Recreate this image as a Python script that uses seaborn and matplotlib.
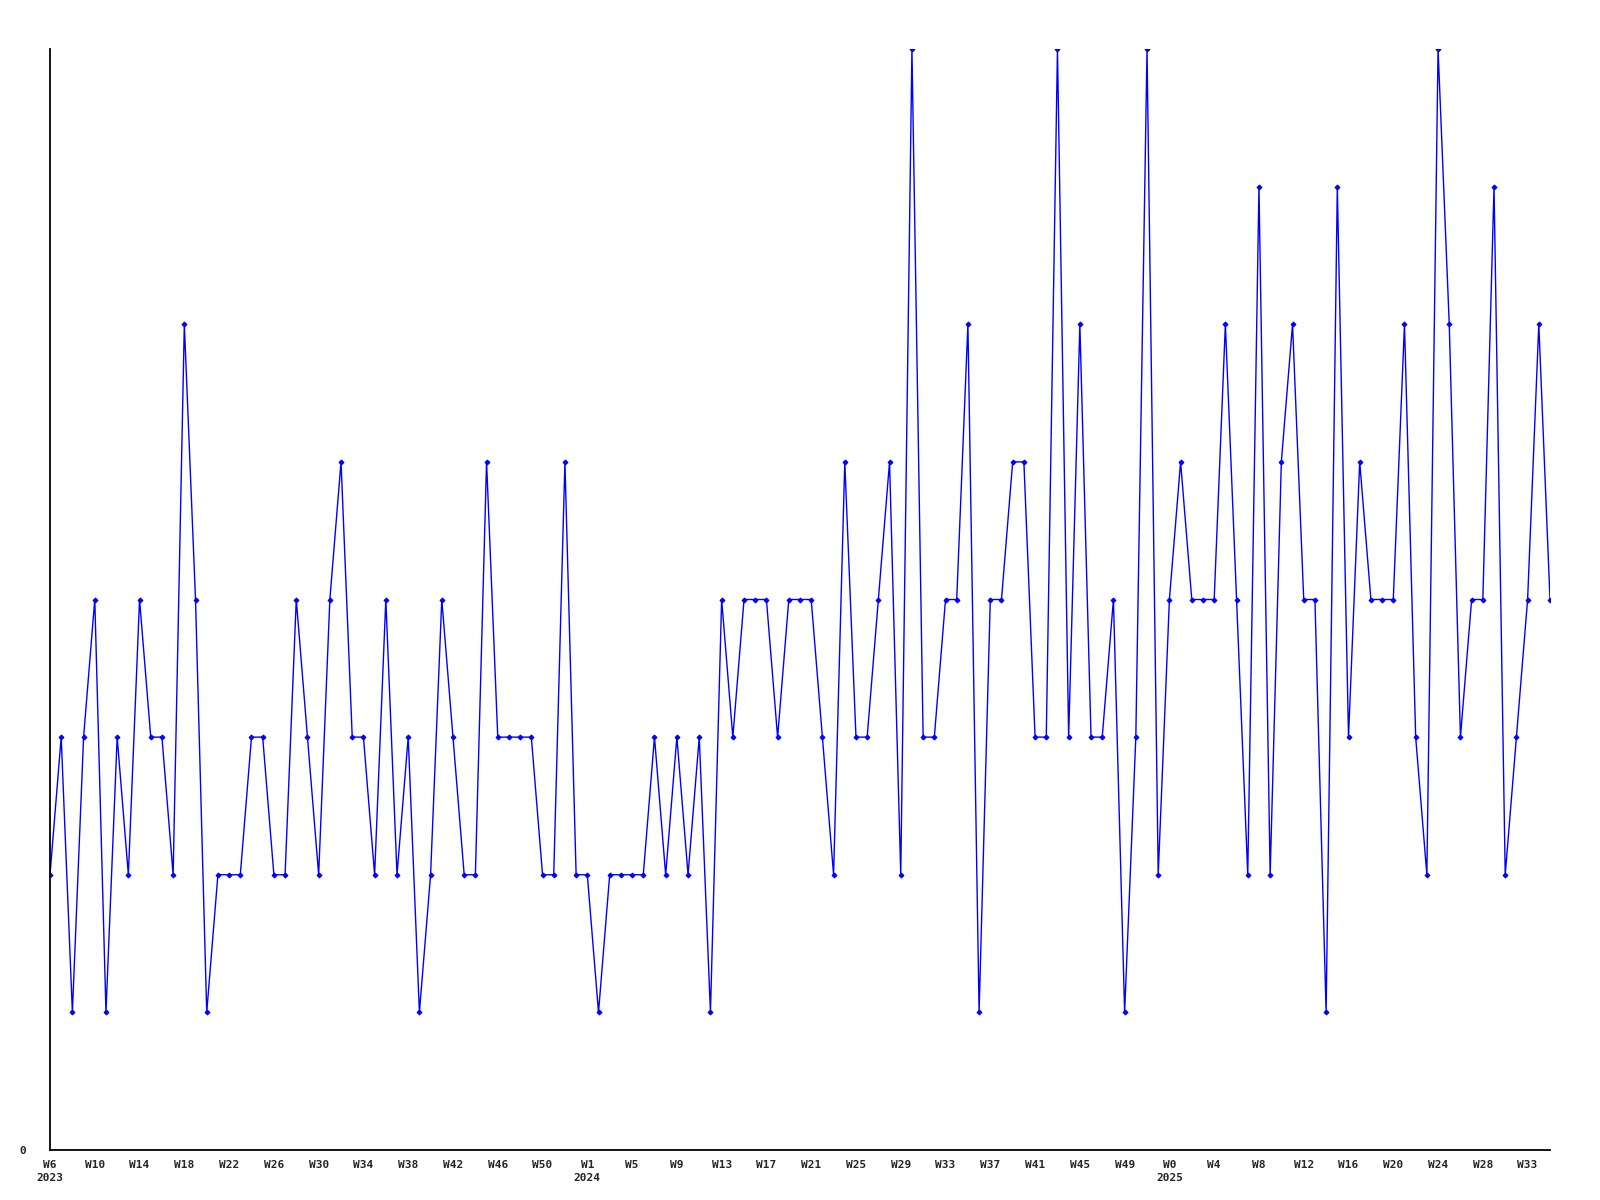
"""Weekly counts, 2023 W6 through 2025 W33, one blue line with small markers."""

import matplotlib

matplotlib.use("Agg")
import matplotlib.pyplot as plt
import matplotlib.transforms as mtransforms
import pandas as pd
import seaborn as sns


# ─── Data ──────────────────────────────────────────────────────────────────

weekly_counts = [
    2, 3, 1, 3, 4, 1, 3, 2, 4, 3, 3, 2, 6, 4, 1, 2, 2, 2, 3, 3,
    2, 2, 4, 3, 2, 4, 5, 3, 3, 2, 4, 2, 3, 1, 2, 4, 3, 2, 2, 5,
    3, 3, 3, 3, 2, 2, 5, 2, 2, 1, 2, 2, 2, 2, 3, 2, 3, 2, 3, 1,
    4, 3, 4, 4, 4, 3, 4, 4, 4, 3, 2, 5, 3, 3, 4, 5, 2, 8, 3, 3,
    4, 4, 6, 1, 4, 4, 5, 5, 3, 3, 8, 3, 6, 3, 3, 4, 1, 3, 8, 2,
    4, 5, 4, 4, 4, 6, 4, 2, 7, 2, 5, 6, 4, 4, 1, 7, 3, 5, 4, 4,
    4, 6, 3, 2, 8, 6, 3, 4, 4, 7, 2, 3, 4, 6, 4,
]

week_tick_labels = [
    "W6", "W10", "W14", "W18", "W22", "W26", "W30", "W34", "W38", "W42",
    "W46", "W50", "W1", "W5", "W9", "W13", "W17", "W21", "W25", "W29",
    "W33", "W37", "W41", "W45", "W49", "W0", "W4", "W8", "W12", "W16",
    "W20", "W24", "W28", "W33",
]

year_labels = ["2023", "2024", "2025"]
year_start_index = [0, 48, 100]

TICK_EVERY = 4
LINE_COLOR = "#0000ff"
FONT = dict(family="DejaVu Sans Mono", weight="bold", size=8)


# ─── Plot ──────────────────────────────────────────────────────────────────

df = pd.DataFrame({"week": range(len(weekly_counts)), "count": weekly_counts})

sns.set_style("white")
fig = plt.figure(figsize=(16, 12), dpi=100)
ax = fig.add_axes([50 / 1600, 50 / 1200, 1500 / 1600, 1101 / 1200])

sns.lineplot(
    data=df,
    x="week",
    y="count",
    ax=ax,
    color=LINE_COLOR,
    linewidth=1.0,
    marker="D",
    markersize=2.5,
    markeredgecolor=LINE_COLOR,
    markerfacecolor=LINE_COLOR,
)

ax.set_xlim(0, len(weekly_counts) - 1)
ax.set_ylim(0, max(weekly_counts))

ax.set_xticks(range(0, len(weekly_counts), TICK_EVERY))
ax.set_xticklabels(week_tick_labels, fontdict=FONT)
ax.set_yticks([0])
ax.set_yticklabels(["0"], fontdict=FONT)
ax.tick_params(axis="x", length=0, pad=7)
ax.tick_params(axis="y", length=0, pad=17)

# year under the first week of each year
trans = mtransforms.blended_transform_factory(ax.transData, ax.transAxes)
for label, idx in zip(year_labels, year_start_index):
    ax.text(idx, -0.025, label, transform=trans, ha="center", va="center",
            fontdict=FONT)

ax.set_xlabel("")
ax.set_ylabel("")
sns.despine(ax=ax)
for side in ("left", "bottom"):
    ax.spines[side].set_color("black")
    ax.spines[side].set_linewidth(1.3)
ax.grid(False)

fig.savefig("out.png", dpi=100, facecolor="white")
